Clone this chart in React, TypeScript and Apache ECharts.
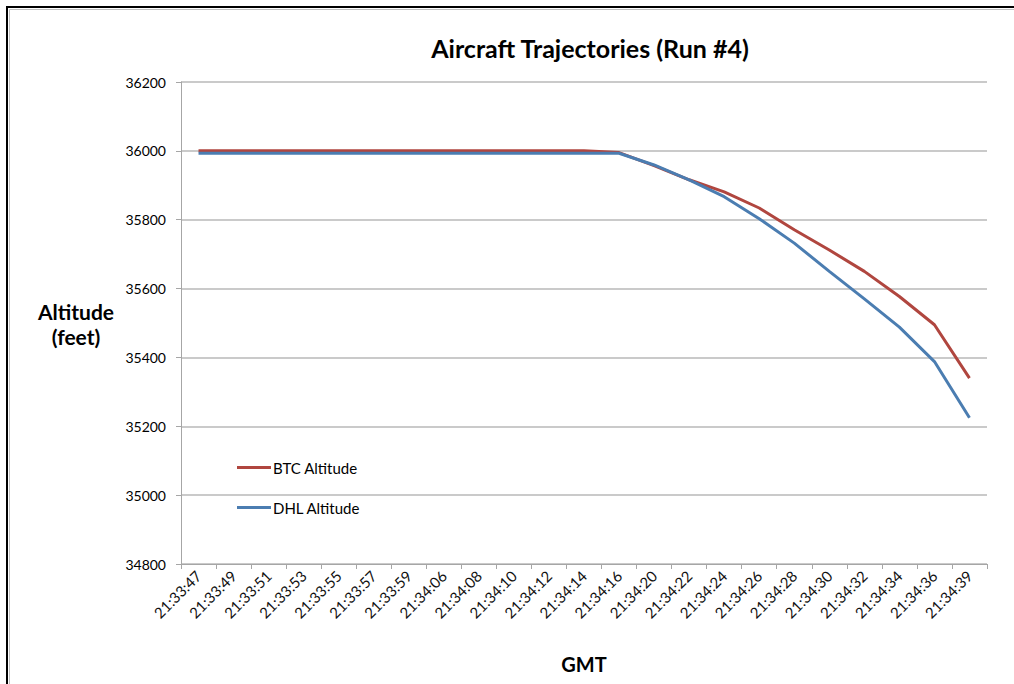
import React, { useEffect, useRef } from "react";
import * as echarts from "echarts";

const categories = [
  "21:33:47", "21:33:49", "21:33:51", "21:33:53", "21:33:55", "21:33:57", "21:33:59",
  "21:34:06", "21:34:08", "21:34:10", "21:34:12", "21:34:14", "21:34:16",
  "21:34:20", "21:34:22", "21:34:24", "21:34:26", "21:34:28", "21:34:30",
  "21:34:32", "21:34:34", "21:34:36", "21:34:39",
];

const btcAltitude = [
  36000, 36000, 36000, 36000, 36000, 36000, 36000,
  36000, 36000, 36000, 36000, 36000, 35995,
  35957, 35916, 35881, 35834, 35771, 35712,
  35650, 35577, 35495, 35340,
];

const dhlAltitude = [
  35993, 35993, 35993, 35993, 35993, 35993, 35993,
  35993, 35993, 35993, 35993, 35993, 35993,
  35959, 35916, 35867, 35803, 35732, 35650,
  35570, 35488, 35388, 35225,
];

const FONT = "Lato, 'Open Sans', sans-serif";

export default function App() {
  const ref = useRef<HTMLDivElement>(null);
  useEffect(() => {
    if (!ref.current) return;
    const chart = echarts.init(ref.current, undefined, { renderer: "svg" });
    chart.setOption({
      animation: false,
      backgroundColor: "#ffffff",
      textStyle: { fontFamily: FONT },
      title: {
        text: "Aircraft Trajectories (Run #4)",
        left: 585,
        top: 30,
        textAlign: "center",
        textStyle: { fontFamily: FONT, fontSize: 25, fontWeight: "bold", color: "#000" },
      },
      graphic: [
        {
          type: "rect",
          shape: { x: 7, y: 7, width: 1030, height: 700 },
          style: { fill: "none", stroke: "#000", lineWidth: 2 },
          silent: true,
        },
        {
          type: "rect",
          shape: { x: 9.5, y: 9.5, width: 1030, height: 700 },
          style: { fill: "none", stroke: "#c0c0c0", lineWidth: 1 },
          silent: true,
        },
        {
          type: "text",
          style: {
            x: 76,
            y: 324,
            text: "Altitude\n(feet)",
            textAlign: "center",
            textVerticalAlign: "middle",
            font: `bold 21px ${FONT}`,
            lineHeight: 25,
            fill: "#000",
          },
        },
      ],
      legend: {
        orient: "vertical",
        left: 232,
        top: 455,
        itemGap: 25,
        itemWidth: 34,
        itemHeight: 3,
        icon: "rect",
        textStyle: { fontFamily: FONT, fontSize: 15, color: "#000", padding: [0, 0, 0, -3] },
        data: ["BTC Altitude", "DHL Altitude"],
      },
      grid: { left: 181, right: 27, top: 82, bottom: 120, containLabel: false },
      xAxis: {
        type: "category",
        data: categories,
        boundaryGap: true,
        name: "GMT",
        nameLocation: "middle",
        nameGap: 90,
        nameTextStyle: { fontFamily: FONT, fontSize: 20, fontWeight: "bold", color: "#000" },
        axisLine: { show: true, lineStyle: { color: "#a6a6a6", width: 1 } },
        axisTick: { show: true, length: 5, alignWithLabel: false, lineStyle: { color: "#a6a6a6" } },
        axisLabel: { rotate: 45, interval: 0, margin: 9, fontFamily: FONT, fontSize: 15, color: "#111" },
        splitLine: { show: false },
      },
      yAxis: {
        type: "value",
        min: 34800,
        max: 36200,
        interval: 200,
        axisLine: { show: true, lineStyle: { color: "#a6a6a6", width: 1 } },
        axisTick: { show: true, length: 5, lineStyle: { color: "#a6a6a6" } },
        axisLabel: {
          margin: 15,
          fontFamily: FONT,
          fontSize: 14,
          color: "#000",
          formatter: (v: number) => String(v),
        },
        splitLine: { show: true, lineStyle: { color: "#b8b8b8", width: 1.5 } },
      },
      series: [
        {
          name: "BTC Altitude",
          type: "line",
          data: btcAltitude,
          symbol: "none",
          lineStyle: { color: "#B0463F", width: 3 },
          itemStyle: { color: "#B0463F" },
        },
        {
          name: "DHL Altitude",
          type: "line",
          data: dhlAltitude,
          symbol: "none",
          lineStyle: { color: "#4B7DB1", width: 3 },
          itemStyle: { color: "#4B7DB1" },
        },
      ],
    });
    return () => chart.dispose();
  }, []);
  return (
    <div style={{ position: "absolute", left: 0, top: 0, width: 1014, height: 684 }}>
      <div ref={ref} style={{ width: 1014, height: 684 }} />
    </div>
  );
}
